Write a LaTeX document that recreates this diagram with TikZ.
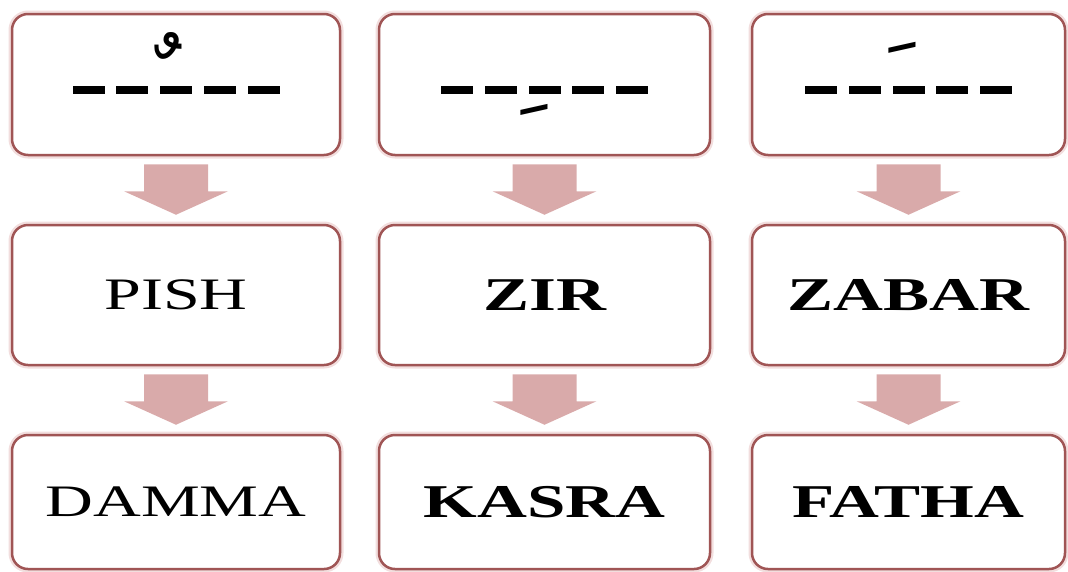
\documentclass[tikz,border=0pt]{standalone}
\usepackage{fontspec}
\setmainfont{Liberation Serif}
\newfontfamily\wideserif[FakeStretch=1.47]{Liberation Serif}
\newfontfamily\arabicfont[Script=Arabic]{DejaVu Sans}
\usetikzlibrary{calc}
\definecolor{boxline}{RGB}{160,85,85}
\definecolor{boxglow}{RGB}{242,222,222}
\definecolor{arrowfill}{RGB}{217,170,170}
\newcommand\blockarr[2]{%
  \fill[arrowfill] ($(#1.south)+(-32,8)$) -- ($(#1.south)+(32,8)$) --
    ($(#1.south)+(32,35)$) -- ($(#1.south)+(52,35)$) --
    ($(#2.north)+(0,-9)$) -- ($(#1.south)+(-52,35)$) --
    ($(#1.south)+(-32,35)$) -- cycle;}
\newcommand\dashrow[1]{%
  \foreach \i in {0,...,4}
    \fill[black] ($(#1.center)+(-103.5+\i*43.75,1.5)$) rectangle ++(32,8);}
\begin{document}
\begin{tikzpicture}[x=1pt,y=-1pt,
  card/.style={draw=boxline, line width=2.5pt, rounded corners=16pt,
    fill=white, inner sep=0pt,
    preaction={draw=boxglow, line width=7pt}},
  regtext/.style={font=\wideserif\fontsize{45}{45}\selectfont},
  boldtext/.style={font=\wideserif\bfseries\fontsize{47}{47}\selectfont},
  diacr/.style={font=\arabicfont\fontsize{95}{95}\selectfont, inner sep=0pt}
]
\useasboundingbox (0,0) rectangle (1068,571);
% top row
\node[card, minimum width=328pt, minimum height=141pt] (t1) at (176,84.5) {};
\node[card, minimum width=331pt, minimum height=141pt] (t2) at (544.5,84.5) {};
\node[card, minimum width=313pt, minimum height=141pt] (t3) at (908.5,84.5) {};
% middle row
\node[card, minimum width=328pt, minimum height=140pt, regtext] (m1) at (176,295) {PISH};
\node[card, minimum width=331pt, minimum height=140pt, boldtext] (m2) at (544.5,295) {ZIR};
\node[card, minimum width=313pt, minimum height=140pt, boldtext] (m3) at (908.5,295) {ZABAR};
% bottom row
\node[card, minimum width=328pt, minimum height=134pt, regtext] (b1) at (176,502) {DAMMA};
\node[card, minimum width=331pt, minimum height=134pt, boldtext] (b2) at (544.5,502) {KASRA};
\node[card, minimum width=313pt, minimum height=134pt, boldtext] (b3) at (908.5,502) {FATHA};
% dashes and marks
\dashrow{t1}
\dashrow{t2}
\dashrow{t3}
\node[diacr] (d1) at ($(t1.center)+(-8,-10.5)$) {\symbol{"FE72}};
\node[diacr] (d2) at ($(t2.center)+(-10.5,24.5)$) {\symbol{"FE7A}};
\node[diacr] (d3) at ($(t3.center)+(-6.5,-9)$) {\symbol{"FE76}};
% arrows
\blockarr{t1}{m1}
\blockarr{t2}{m2}
\blockarr{t3}{m3}
\blockarr{m1}{b1}
\blockarr{m2}{b2}
\blockarr{m3}{b3}
\end{tikzpicture}
\end{document}
